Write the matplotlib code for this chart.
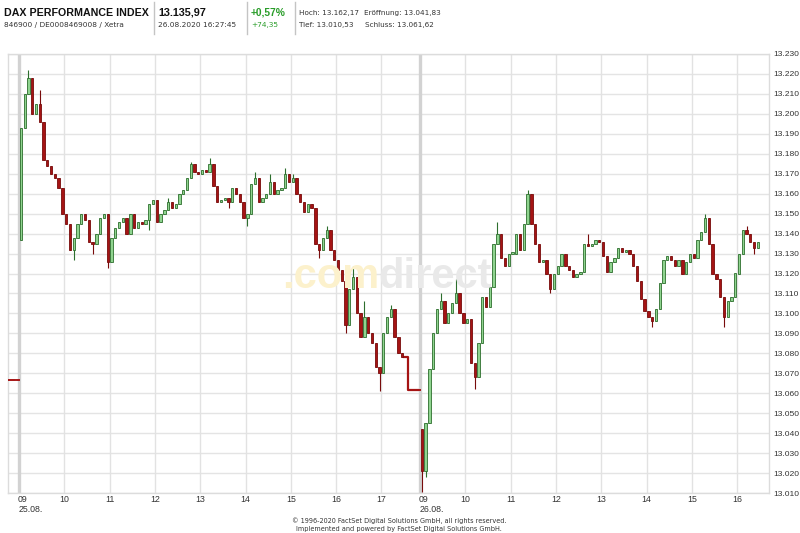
import numpy as np
import matplotlib.pyplot as plt
from matplotlib.patches import Rectangle
import matplotlib.transforms as mtransforms

# --- Daten: 5-Minuten-Kerzen DAX ---
day1_open = 13137.0
day1_close = [
    13193, 13210, 13218, 13200, 13205, 13196, 13177, 13174, 13170, 13168, 13163, 13150,
    13145, 13132, 13138, 13145, 13150, 13147, 13136, 13135, 13140, 13148, 13150, 13126,
    13138, 13143, 13146, 13148, 13140, 13150, 13143, 13146, 13145, 13147, 13155, 13157,
    13146, 13150, 13152, 13156, 13153, 13155, 13160, 13162, 13168, 13175, 13171, 13170,
    13172, 13171, 13175, 13164, 13156, 13157, 13158, 13156, 13163, 13160, 13156, 13148,
    13150, 13165, 13168, 13156, 13158, 13160, 13166, 13160, 13162, 13163, 13170, 13166,
    13168, 13160, 13156, 13151, 13155, 13153, 13135, 13132, 13138, 13142, 13132, 13127,
    13122, 13116, 13094, 13112, 13118, 13100, 13088, 13098, 13090, 13085, 13073, 13070,
    13090, 13098, 13102, 13088, 13080, 13078,
]
day1_high_spikes = [(2, 13222), (5, 13212), (39, 13158), (45, 13176), (50, 13178),
                    (62, 13171), (66, 13170), (70, 13173), (72, 13170), (81, 13144),
                    (88, 13124), (91, 13106), (98, 13104)]
day1_low_spikes = [(14, 13127), (19, 13130), (23, 13123), (34, 13142), (55, 13153),
                   (60, 13144), (79, 13128), (86, 13090), (95, 13061)]

day2_open = 13041.83
day2_close = [
    13021, 13045, 13072, 13090, 13102, 13106, 13095, 13100, 13105, 13110, 13100, 13095,
    13097, 13075, 13068, 13085, 13108, 13103, 13113, 13135, 13140, 13128, 13124, 13130,
    13130, 13140, 13132, 13145, 13160, 13145, 13135, 13126, 13127, 13120, 13112, 13120,
    13124, 13130, 13124, 13122, 13118, 13120, 13121, 13135, 13134, 13135, 13137, 13136,
    13129, 13121, 13126, 13128, 13133, 13131, 13132, 13130, 13124, 13116, 13107, 13101,
    13098, 13096, 13102, 13115, 13127, 13129, 13127, 13124, 13127, 13120, 13126, 13130,
    13128, 13137, 13141, 13148, 13135, 13120, 13117, 13108, 13098, 13106, 13108, 13120,
    13130, 13142, 13140, 13136, 13133, 13136,
]
day2_high_spikes = [(0, 13042), (5, 13110), (9, 13117), (20, 13146), (28, 13162),
                    (44, 13140), (75, 13150), (86, 13144)]
day2_low_spikes = [(0, 13010.53), (1, 13018), (14, 13062), (34, 13110), (61, 13093),
                   (80, 13093), (88, 13130)]

prev_close_24 = 13066.54
close_25 = 13061.62
last_price_25 = 13078

hours_d1 = ["09", "10", "11", "12", "13", "14", "15", "16", "17"]
hours_d2 = ["09", "10", "11", "12", "13", "14", "15", "16"]
day_labels = ["25.08.", "26.08."]
y_ticks = list(range(13010, 13231, 10))

# Achse: Stunden seit 09:00 am 25.08., Tag 2 beginnt bei 8.852
day2_start = 8.852
step = 1 / 12

UP_FC, UP_EC = "#8fd48f", "#2d6e2d"
DN_FC, DN_EC = "#a51414", "#780b0b"
RED = "#a51414"


def draw_candles(ax, start, first_open, closes, hi_spikes, lo_spikes):
    opens = [first_open] + closes[:-1]
    highs = [max(o, c) for o, c in zip(opens, closes)]
    lows = [min(o, c) for o, c in zip(opens, closes)]
    for k, v in hi_spikes:
        highs[k] = v
    for k, v in lo_spikes:
        lows[k] = v
    bw = step * 0.62
    for k, (o, c) in enumerate(zip(opens, closes)):
        xc = start + (k + 0.5) * step
        up = c >= o
        fc, ec = (UP_FC, UP_EC) if up else (DN_FC, DN_EC)
        ax.vlines(xc, lows[k], highs[k], color=ec, lw=0.8, zorder=3)
        h = max(abs(c - o), 0.8)
        ax.add_patch(Rectangle((xc - bw / 2, min(o, c)), bw, h,
                               facecolor=fc, edgecolor=ec, lw=0.6, zorder=4))


fig = plt.figure(figsize=(8, 5.33), dpi=100)
ax = fig.add_axes([8 / 800, 1 - 493 / 533, (769 - 8) / 800, (493 - 54) / 533])
ax.set_xlim(-0.243, 16.556)
ax.set_ylim(13010, 13230)

# Gitter
for v in y_ticks:
    ax.axhline(v, color="#e4e4e4", lw=1, zorder=1)
for i in range(len(hours_d1)):
    ax.axvline(i, color="#d2d2d2" if i == 0 else "#e2e2e2", lw=2.4 if i == 0 else 1, zorder=1)
for i in range(len(hours_d2)):
    ax.axvline(day2_start + i, color="#d2d2d2" if i == 0 else "#e2e2e2",
               lw=2.4 if i == 0 else 1, zorder=1)

for s in ax.spines.values():
    s.set_color("#dcdcdc")
    s.set_linewidth(1)

# Wasserzeichen
fig.text(282 / 800, 1 - 288 / 533, ".com", fontsize=30, fontweight="bold",
         family="Liberation Sans", color="#fcf1cc", zorder=0.5)
fig.text(378 / 800, 1 - 288 / 533, "direct", fontsize=30, fontweight="bold",
         family="Liberation Sans", color="#e9e9e9", zorder=0.5)
ax.set_facecolor("none")

# Vortagesschluss-Linien
ax.plot([-0.243, -0.09], [prev_close_24] * 2, color=RED, lw=1.4, zorder=3)
ax.plot([-0.035, 0.0], [prev_close_24] * 2, color=RED, lw=1.4, zorder=3)
ax.plot([8.5, 8.594, 8.594, 8.81], [last_price_25, last_price_25, close_25, close_25],
        color=RED, lw=1.6, zorder=3)
ax.plot([8.83, 8.85], [close_25] * 2, color=RED, lw=1.4, zorder=3)

draw_candles(ax, 0.0, day1_open, day1_close, day1_high_spikes, day1_low_spikes)
draw_candles(ax, day2_start, day2_open, day2_close, day2_high_spikes, day2_low_spikes)

# Y-Achse rechts
ax.yaxis.tick_right()
ax.set_yticks(y_ticks)
ax.set_yticklabels([f"{v:,}".replace(",", ".") for v in y_ticks],
                   family="Liberation Sans", fontsize=6.1, color="#333333")
ax.tick_params(axis="y", length=0, pad=3)
ax.set_xticks([])

# X-Beschriftung
trans = mtransforms.blended_transform_factory(ax.transData, fig.transFigure)
lab_y = 1 - 500 / 533
date_y = 1 - 509 / 533
for d, (start, hrs) in enumerate([(0.0, hours_d1), (day2_start, hours_d2)]):
    for i, h in enumerate(hrs):
        if i == 0:
            ax.text(start - 0.02, lab_y, h, transform=trans, ha="left", va="center",
                    family="Liberation Sans", fontsize=6.3, color="#333333")
        else:
            ax.text(start + i, lab_y, h, transform=trans, ha="center", va="center",
                    family="Liberation Sans", fontsize=6.3, color="#333333")
    ax.text(start - 0.02, date_y, day_labels[d], transform=trans, ha="left", va="center",
            family="Liberation Sans", fontsize=6.3, color="#333333")

# Kopfzeile
hdr = dict(family="Liberation Sans", va="center")
fig.text(4 / 800, 1 - 12.5 / 533, "DAX PERFORMANCE INDEX", fontsize=7.7,
         fontweight="bold", color="#111111", **hdr)
fig.text(4 / 800, 1 - 25 / 533, "846900 / DE0008469008 / Xetra", fontsize=5.3,
         color="#333333", family="DejaVu Sans", va="center")
fig.text(158 / 800, 1 - 12.5 / 533, "13.135,97", fontsize=7.8, fontweight="bold",
         color="#111111", **hdr)
fig.text(158 / 800, 1 - 25 / 533, "26.08.2020 16:27:45", fontsize=5.3,
         color="#333333", family="DejaVu Sans", va="center")
fig.text(251 / 800, 1 - 12.5 / 533, "+0,57%", fontsize=7.4, fontweight="bold",
         color="#2a9d2a", **hdr)
fig.text(251 / 800, 1 - 25 / 533, "+74,35", fontsize=5.3, color="#2a9d2a",
         family="DejaVu Sans", va="center")
fig.text(299 / 800, 1 - 12.5 / 533, "Hoch: 13.162,17", fontsize=5.2,
         color="#333333", family="DejaVu Sans", va="center")
fig.text(364 / 800, 1 - 12.5 / 533, "Eröffnung: 13.041,83", fontsize=5.2,
         color="#333333", family="DejaVu Sans", va="center")
fig.text(299 / 800, 1 - 25 / 533, "Tief: 13.010,53", fontsize=5.2,
         color="#333333", family="DejaVu Sans", va="center")
fig.text(365 / 800, 1 - 25 / 533, "Schluss: 13.061,62", fontsize=5.2,
         color="#333333", family="DejaVu Sans", va="center")
for xs in [154, 247, 295]:
    fig.add_artist(plt.Line2D([xs / 800] * 2, [1 - 2 / 533, 1 - 34 / 533],
                              color="#c4c4c4", lw=1))

# Fusszeile
fig.text(399 / 800, 1 - 521 / 533,
         "\u00a9 1996-2020 FactSet Digital Solutions GmbH, all rights reserved.",
         fontsize=4.7, ha="center", va="center", family="DejaVu Sans", color="#333333")
fig.text(399 / 800, 1 - 529.5 / 533,
         "Implemented and powered by FactSet Digital Solutions GmbH.",
         fontsize=4.7, ha="center", va="center", family="DejaVu Sans", color="#333333")

fig.savefig("out.png", dpi=100)
plt.close(fig)
